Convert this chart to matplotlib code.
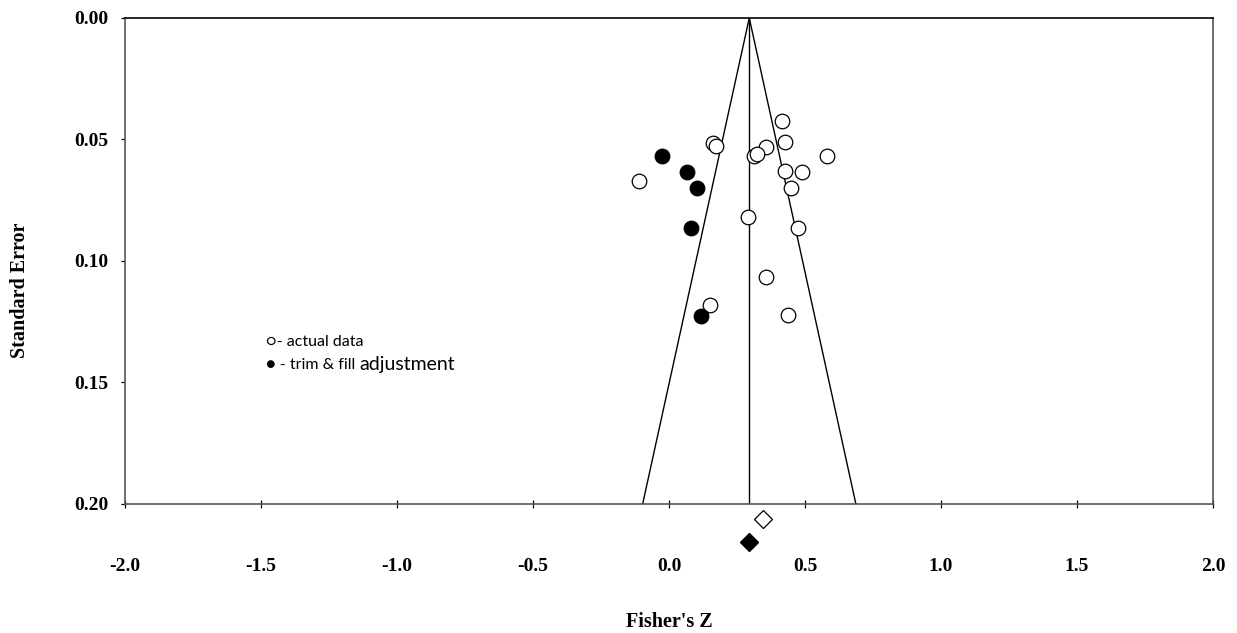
import matplotlib.pyplot as plt
from matplotlib.transforms import offset_copy

# observed studies (Fisher's Z, standard error)
obs_z = [0.414, 0.160, 0.174, 0.357, 0.426, 0.313, 0.324, 0.581, -0.110,
         0.426, 0.488, 0.450, 0.290, 0.475, 0.357, 0.152, 0.438]
obs_se = [0.0423, 0.0516, 0.0527, 0.0532, 0.0512, 0.0567, 0.0561, 0.0567, 0.0671,
          0.0631, 0.0634, 0.0700, 0.0820, 0.0863, 0.1066, 0.1180, 0.1223]

# imputed studies from trim & fill
imp_z = [-0.027, 0.066, 0.104, 0.080, 0.117]
imp_se = [0.0567, 0.0634, 0.0700, 0.0864, 0.1225]

# pooled estimates: observed and adjusted
pooled_obs = 0.346
pooled_adj = 0.295
se_max = 0.20

x_ticks = [-2.0, -1.5, -1.0, -0.5, 0.0, 0.5, 1.0, 1.5, 2.0]
y_ticks = [0.00, 0.05, 0.10, 0.15, 0.20]

serif = 'Liberation Serif'

fig = plt.figure(figsize=(12.37, 6.33), dpi=100)
ax = fig.add_axes([0.1011, 0.2038, 0.8795, 0.7678])

# funnel around the adjusted estimate
half = 1.96 * se_max
ax.plot([pooled_adj - half, pooled_adj, pooled_adj + half], [se_max, 0, se_max],
        color='black', lw=1.0)
ax.plot([pooled_adj, pooled_adj], [0, se_max], color='black', lw=1.0)

ax.plot(obs_z, obs_se, 'o', ms=10.5, mfc='white', mec='black', mew=0.9, clip_on=False)
ax.plot(imp_z, imp_se, 'o', ms=10.5, mfc='black', mec='black', mew=0.9, clip_on=False)

# summary diamonds below the axis
ax.plot([pooled_obs], [0.206], 'D', ms=9.5, mfc='white', mec='black', mew=0.9, clip_on=False)
ax.plot([pooled_adj], [0.2156], 'D', ms=9, mfc='black', mec='black', clip_on=False)

ax.set_xlim(-2.0, 2.0)
ax.set_ylim(se_max, 0.0)
ax.set_xticks(x_ticks)
ax.set_xticklabels([f'{v:.1f}' for v in x_ticks])
ax.set_yticks(y_ticks)
ax.set_yticklabels([f'{v:.2f}' for v in y_ticks])

for lab in ax.get_xticklabels() + ax.get_yticklabels():
    lab.set_fontfamily(serif)
    lab.set_fontweight('bold')
    lab.set_fontsize(14)

ax.tick_params(axis='x', direction='inout', length=6, width=0.9, pad=36)
ax.tick_params(axis='y', direction='out', length=3, width=0.9, pad=9)

for side in ['left', 'bottom', 'right']:
    ax.spines[side].set_color('#555555')
    ax.spines[side].set_linewidth(1.2)
ax.spines['top'].set_color('black')
ax.spines['top'].set_linewidth(1.2)

fig.text(669 / 1237, 1 - 622 / 633, "Fisher's Z", ha='center', va='center',
         family=serif, fontweight='bold', fontsize=14.5)
fig.text(20 / 1237, 1 - 290 / 633, 'Standard Error', ha='center', va='center',
         rotation=90, family=serif, fontweight='bold', fontsize=14.5)

# hand-made key
key_font = ['Lato', 'DejaVu Sans']
ax.text(-1.482, 0.1333, '\u25cb- actual data', ha='left', va='center',
        family=key_font, fontsize=11.5)
t2 = ax.text(-1.482, 0.1428, '\u25cf - trim & fill', ha='left', va='center',
             family=key_font, fontsize=11.5)

# "adjustment" follows straight after, in a larger size
fig.canvas.draw()
bb = t2.get_window_extent()
x_end = ax.transData.inverted().transform((bb.x1, bb.y0))[0]
ax.text(x_end, 0.1428, 'adjustment', ha='left', va='center',
        family=key_font, fontsize=14,
        transform=offset_copy(ax.transData, fig=fig, x=4, units='dots'))

fig.savefig('out.png', dpi=100)
